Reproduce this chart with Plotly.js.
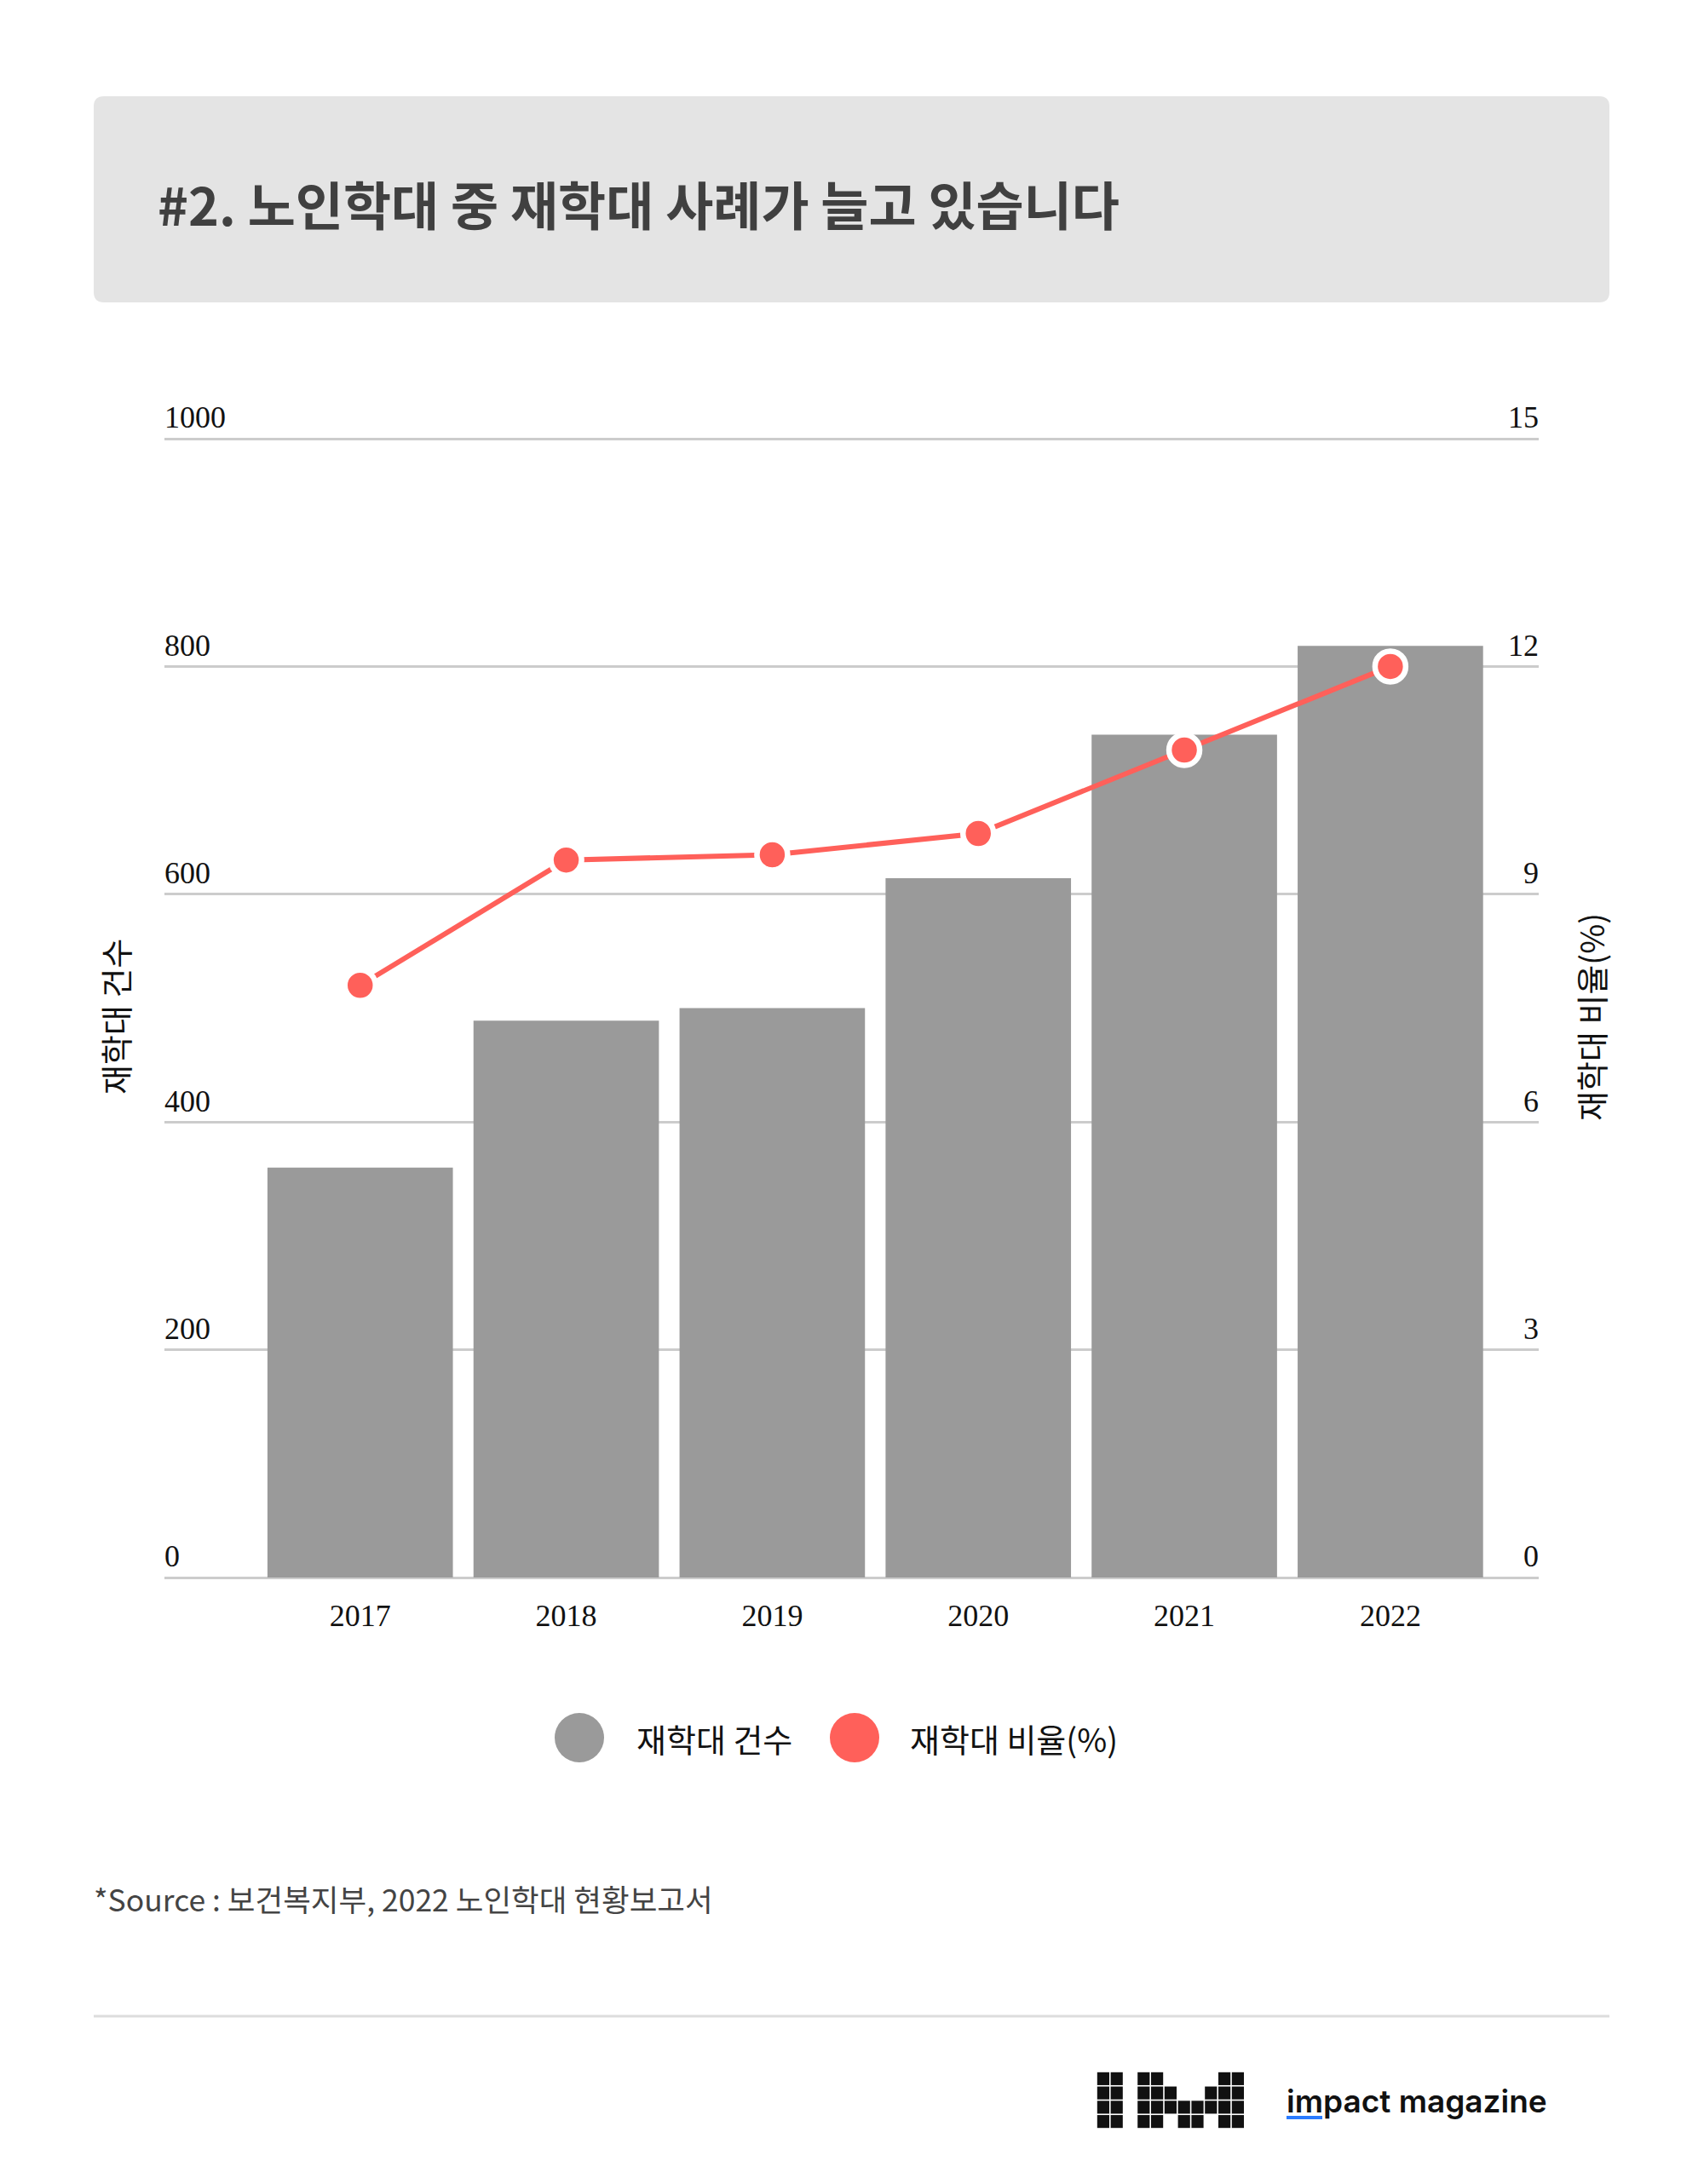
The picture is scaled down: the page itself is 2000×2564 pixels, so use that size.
<!DOCTYPE html>
<html>
<head>
<meta charset="utf-8">
<script src="https://cdn.plot.ly/plotly-3.0.1.min.js"></script>
<style>
html,body{margin:0;padding:0;background:#fff;}
#chart{width:2000px;height:2564px;}
</style>
</head>
<body>
<div id="chart"></div>
<script>
// ---- data ----
const years = ['2017', '2018', '2019', '2020', '2021', '2022'];
const reabuseCounts = [360, 489, 500, 614, 740, 818];
const reabuseRates = [7.8, 9.45, 9.52, 9.8, 10.9, 12.0];
const countTicks = [0, 200, 400, 600, 800, 1000];
const rateTicks = [0, 3, 6, 9, 12, 15];
const countName = '재학대 건수';
const rateName = '재학대 비율(%)';
const titleText = '#2. 노인학대 중 재학대 사례가 늘고 있습니다';
const sourceText = '*Source : 보건복지부, 2022 노인학대 현황보고서';
const brandText = 'impact magazine';
const logoRows = [
  '11011000011',
  '11011100111',
  '11011111111',
  '11011011011'
];

// ---- layout geometry ----
const W = 2000, H = 2564;
const M = {l: 193, r: 194, t: 435, b: 712};
const PW = W - M.l - M.r, PH = H - M.t - M.b;
const px = x => (x - M.l) / PW;
const py = y => (H - M.b - y) / PH;
// extra headroom above the top gridline so its labels stay inside the plot area
const headroom = PH / 1337;

const GRAY = '#9a9a9a', RED = '#ff605a';
const SANS = '"Noto Sans CJK KR", "Noto Sans", sans-serif';
const SERIF = '"Liberation Serif", "DejaVu Serif", serif';

const shapes = [];
const annotations = [];

// title box (rounded rectangle)
(function(){
  const x0 = 110, x1 = 1889, y0 = 113, y1 = 355, r = 12;
  const P = (x, y) => px(x) + ',' + py(y);
  const d = 'M' + P(x0 + r, y0) + ' L' + P(x1 - r, y0) + ' Q' + P(x1, y0) + ' ' + P(x1, y0 + r) +
    ' L' + P(x1, y1 - r) + ' Q' + P(x1, y1) + ' ' + P(x1 - r, y1) +
    ' L' + P(x0 + r, y1) + ' Q' + P(x0, y1) + ' ' + P(x0, y1 - r) +
    ' L' + P(x0, y0 + r) + ' Q' + P(x0, y0) + ' ' + P(x0 + r, y0) + ' Z';
  shapes.push({type: 'path', xref: 'paper', yref: 'paper', path: d,
    fillcolor: '#e4e4e4', line: {width: 0}, layer: 'below'});
})();

// divider
shapes.push({type: 'line', xref: 'paper', yref: 'paper', x0: px(110), x1: px(1889), y0: py(2367), y1: py(2367),
  line: {color: '#dddddd', width: 3}});

// legend circles
function circle(cx, cy, r, color){
  shapes.push({type: 'circle', xref: 'paper', yref: 'paper', xsizemode: 'pixel', ysizemode: 'pixel',
    xanchor: px(cx), yanchor: py(cy), x0: -r, x1: r, y0: -r, y1: r,
    fillcolor: color, line: {width: 0}});
}
circle(680, 2040, 29, GRAY);
circle(1003, 2040, 29, RED);
annotations.push({xref: 'paper', yref: 'paper', x: px(745), y: py(2040), xanchor: 'left', yanchor: 'middle',
  text: countName, showarrow: false, font: {family: SANS, size: 38, color: '#111'}});
annotations.push({xref: 'paper', yref: 'paper', x: px(1066), y: py(2040), xanchor: 'left', yanchor: 'middle',
  text: rateName, showarrow: false, font: {family: SANS, size: 38, color: '#111'}});

// axis titles
annotations.push({xref: 'paper', yref: 'paper', x: px(134), y: py(1194), xanchor: 'center', yanchor: 'middle',
  text: countName, textangle: -90, showarrow: false, font: {family: SANS, size: 38, color: '#111'}});
annotations.push({xref: 'paper', yref: 'paper', x: px(1866), y: py(1194), xanchor: 'center', yanchor: 'middle',
  text: rateName, textangle: -90, showarrow: false, font: {family: SANS, size: 38, color: '#111'}});

// source
annotations.push({xref: 'paper', yref: 'paper', x: px(108), y: py(2228), xanchor: 'left', yanchor: 'middle',
  text: sourceText, showarrow: false, font: {family: SANS, size: 35.5, color: '#444'}});

// logo grid
(function(){
  const ox = 1287, oy = 2432, cw = 15.8, ch = 16.75, g = 1.6;
  logoRows.forEach((row, ri) => {
    row.split('').forEach((c, ci) => {
      if (c !== '1') return;
      shapes.push({type: 'rect', xref: 'paper', yref: 'paper',
        x0: px(ox + ci * cw + g / 2), x1: px(ox + (ci + 1) * cw - g / 2),
        y0: py(oy + ri * ch + g / 2), y1: py(oy + (ri + 1) * ch - g / 2),
        fillcolor: '#111', line: {width: 0}});
    });
  });
})();
annotations.push({xref: 'paper', yref: 'paper', x: px(1508), y: py(2466), xanchor: 'left', yanchor: 'middle',
  text: brandText, showarrow: false, font: {family: 'Inter, Lato, sans-serif', size: 37, color: '#111', weight: 600}});
shapes.push({type: 'rect', xref: 'paper', yref: 'paper', x0: px(1510), x1: px(1552), y0: py(2488), y1: py(2484),
  fillcolor: '#2a7bff', line: {width: 0}});

// ---- traces ----
const traces = [
  {type: 'bar', x: years, y: reabuseCounts, name: countName, marker: {color: GRAY}, yaxis: 'y'},
  {type: 'scatter', mode: 'lines+markers', x: years, y: reabuseRates, name: rateName, yaxis: 'y2',
    line: {color: RED, width: 6},
    marker: {color: RED, size: 36, line: {color: '#ffffff', width: 6.5}}}
];

const layout = {
  width: W, height: H,
  margin: M,
  paper_bgcolor: '#ffffff', plot_bgcolor: 'rgba(0,0,0,0)',
  showlegend: false,
  bargap: 0.1,
  title: {text: titleText, x: 185 / W, xanchor: 'left', xref: 'container',
    y: 1 - 244 / H, yanchor: 'middle', yref: 'container',
    font: {family: SANS, size: 61, color: '#404040', weight: 700}},
  xaxis: {type: 'category', range: [-0.95, 5.72], showgrid: false, zeroline: false, showline: false,
    ticks: '', tickfont: {family: SERIF, size: 36, color: '#111'}, ticklabelstandoff: 20, fixedrange: true},
  yaxis: {range: [0, 1000 * headroom], tickvals: countTicks, showgrid: true, gridcolor: '#cccccc', gridwidth: 3,
    zeroline: true, zerolinecolor: '#cccccc', zerolinewidth: 3, showline: false, ticks: '',
    ticklabelposition: 'inside top', ticklabelstandoff: -3,
    tickfont: {family: SERIF, size: 36, color: '#111'}, fixedrange: true},
  yaxis2: {range: [0, 15 * headroom], tickvals: rateTicks, overlaying: 'y', side: 'right', showgrid: false,
    zeroline: false, showline: false, ticks: '',
    ticklabelposition: 'inside top', ticklabelstandoff: -3,
    tickfont: {family: SERIF, size: 36, color: '#111'}, fixedrange: true},
  shapes: shapes,
  annotations: annotations
};

Plotly.newPlot('chart', traces, layout, {staticPlot: true, displayModeBar: false});
</script>
</body>
</html>
